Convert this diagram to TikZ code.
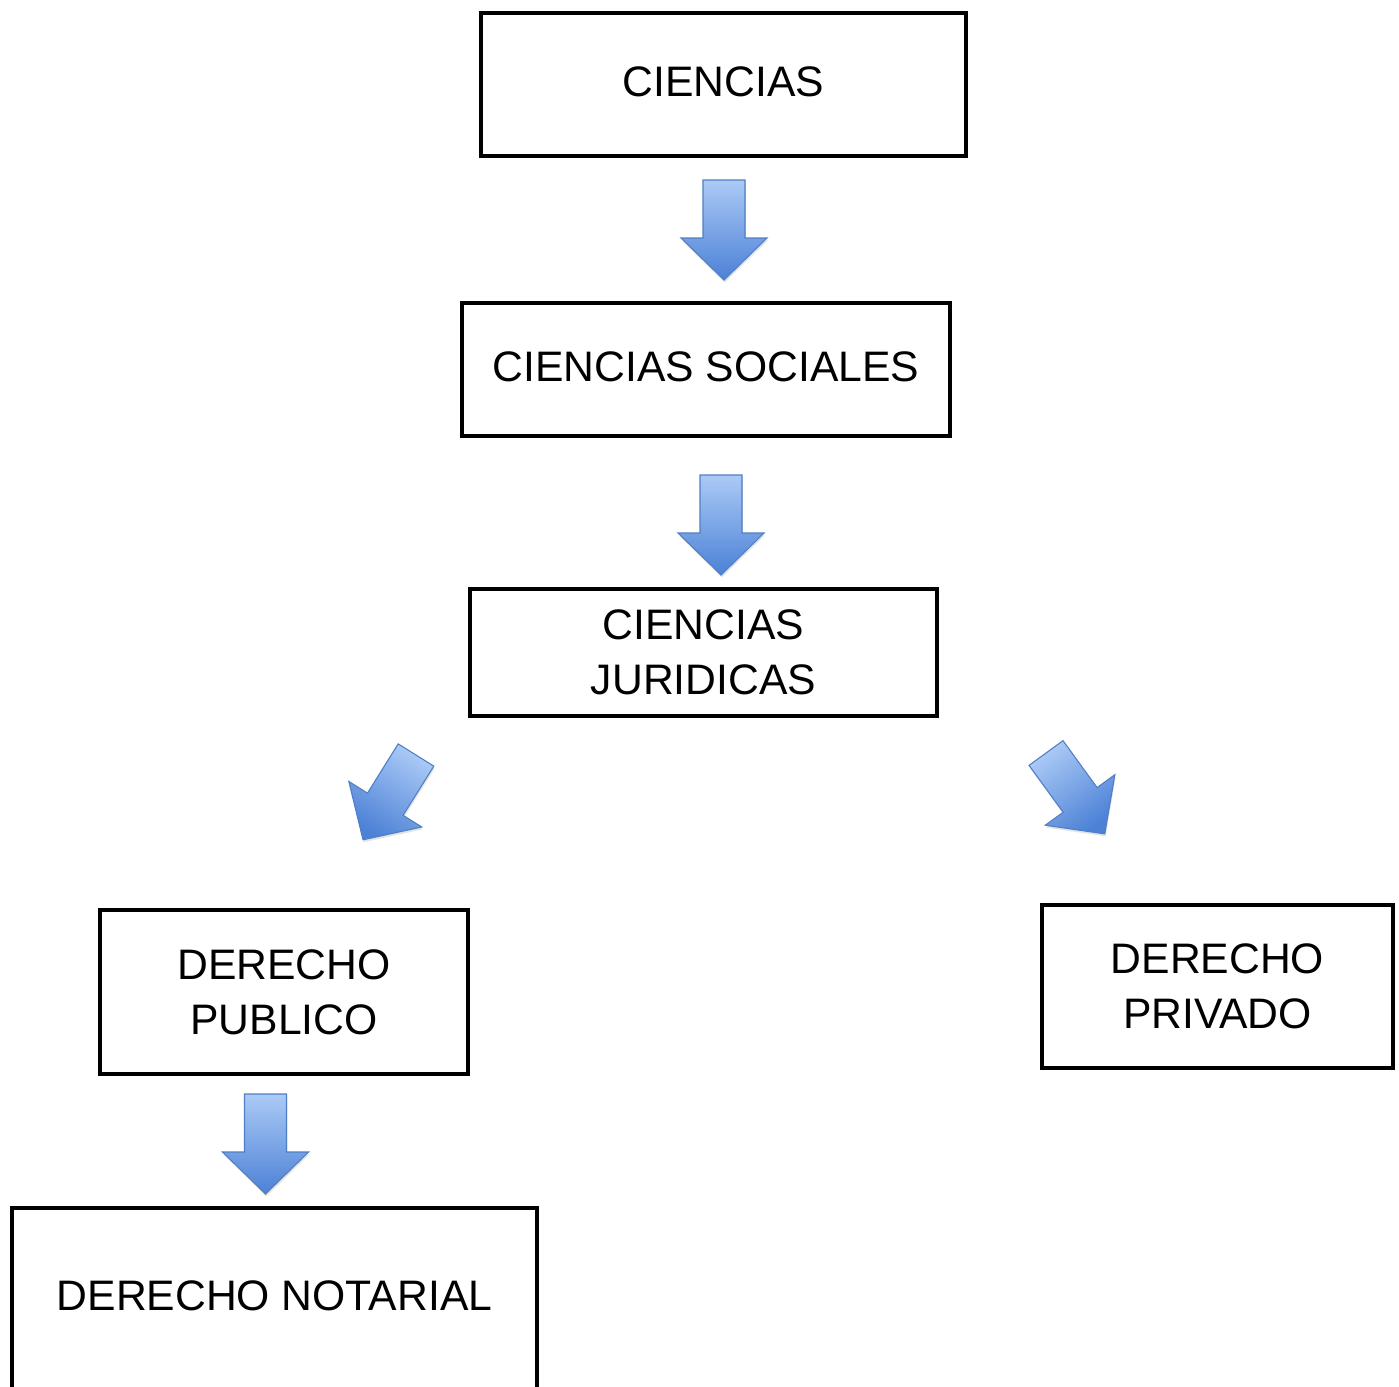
\documentclass[tikz,border=0pt]{standalone}
\usepackage{fontspec}
\setmainfont{Liberation Sans}
\usetikzlibrary{shadows}
\definecolor{arrowlight}{HTML}{ABCAF6}
\definecolor{arrowdark}{HTML}{4C81D6}
\definecolor{arrowedge}{HTML}{4F7FC4}
\tikzset{
  box/.style={draw, line width=3.2pt, align=center, inner sep=0pt,
    font=\fontsize{32pt}{41.25pt}\selectfont},
  onelinebox/.style={box, text depth=4.5pt},
  blockarrow/.style={draw=arrowedge, line width=0.8pt, line join=miter,
    top color=arrowlight, bottom color=arrowdark,
    drop shadow={opacity=0.22, shadow xshift=0.6pt, shadow yshift=-1.8pt}}
}
\newcommand\bArrow[4]{% x, y (shaft top middle), rotation, shading angle
  \begin{scope}[shift={(#1,#2)}, rotate=#3]
    \path[blockarrow, shading angle=#4]
      (-21,0) -- (21,0) -- (21,58) -- (43,58) -- (0,100) -- (-43,58) -- (-21,58) -- cycle;
  \end{scope}}
\begin{document}
\begin{tikzpicture}[x=0.75pt, y=-0.75pt]
  \useasboundingbox (0,0) rectangle (1399,1386);
  \clip (0,0) rectangle (1399,1386);
  \fill[white] (0,0) rectangle (1399,1386);

  \node[onelinebox, minimum width=485*0.75pt, minimum height=143*0.75pt] (c1) at (723.5,84.5) {CIENCIAS};
  \node[onelinebox, minimum width=488*0.75pt, minimum height=133*0.75pt] (c2) at (706,369.5) {CIENCIAS SOCIALES};
  \node[box, minimum width=467*0.75pt, minimum height=127*0.75pt] (c3) at (703.5,652.5) {CIENCIAS\\JURIDICAS};
  \node[box, minimum width=368*0.75pt, minimum height=164*0.75pt] (c4) at (284,992) {DERECHO\\PUBLICO};
  \node[box, minimum width=351*0.75pt, minimum height=163*0.75pt] (c5) at (1217.5,986.5) {DERECHO\\PRIVADO};
  \node[onelinebox, minimum width=525*0.75pt, minimum height=182*0.75pt] (c6) at (274.5,1299) {DERECHO NOTARIAL};

  \bArrow{724}{180}{0}{0}
  \bArrow{721}{475}{0}{0}
  \bArrow{416}{755}{-32}{-32}
  \bArrow{1046}{753}{36}{36}
  \bArrow{265.5}{1094}{0}{0}
\end{tikzpicture}
\end{document}
